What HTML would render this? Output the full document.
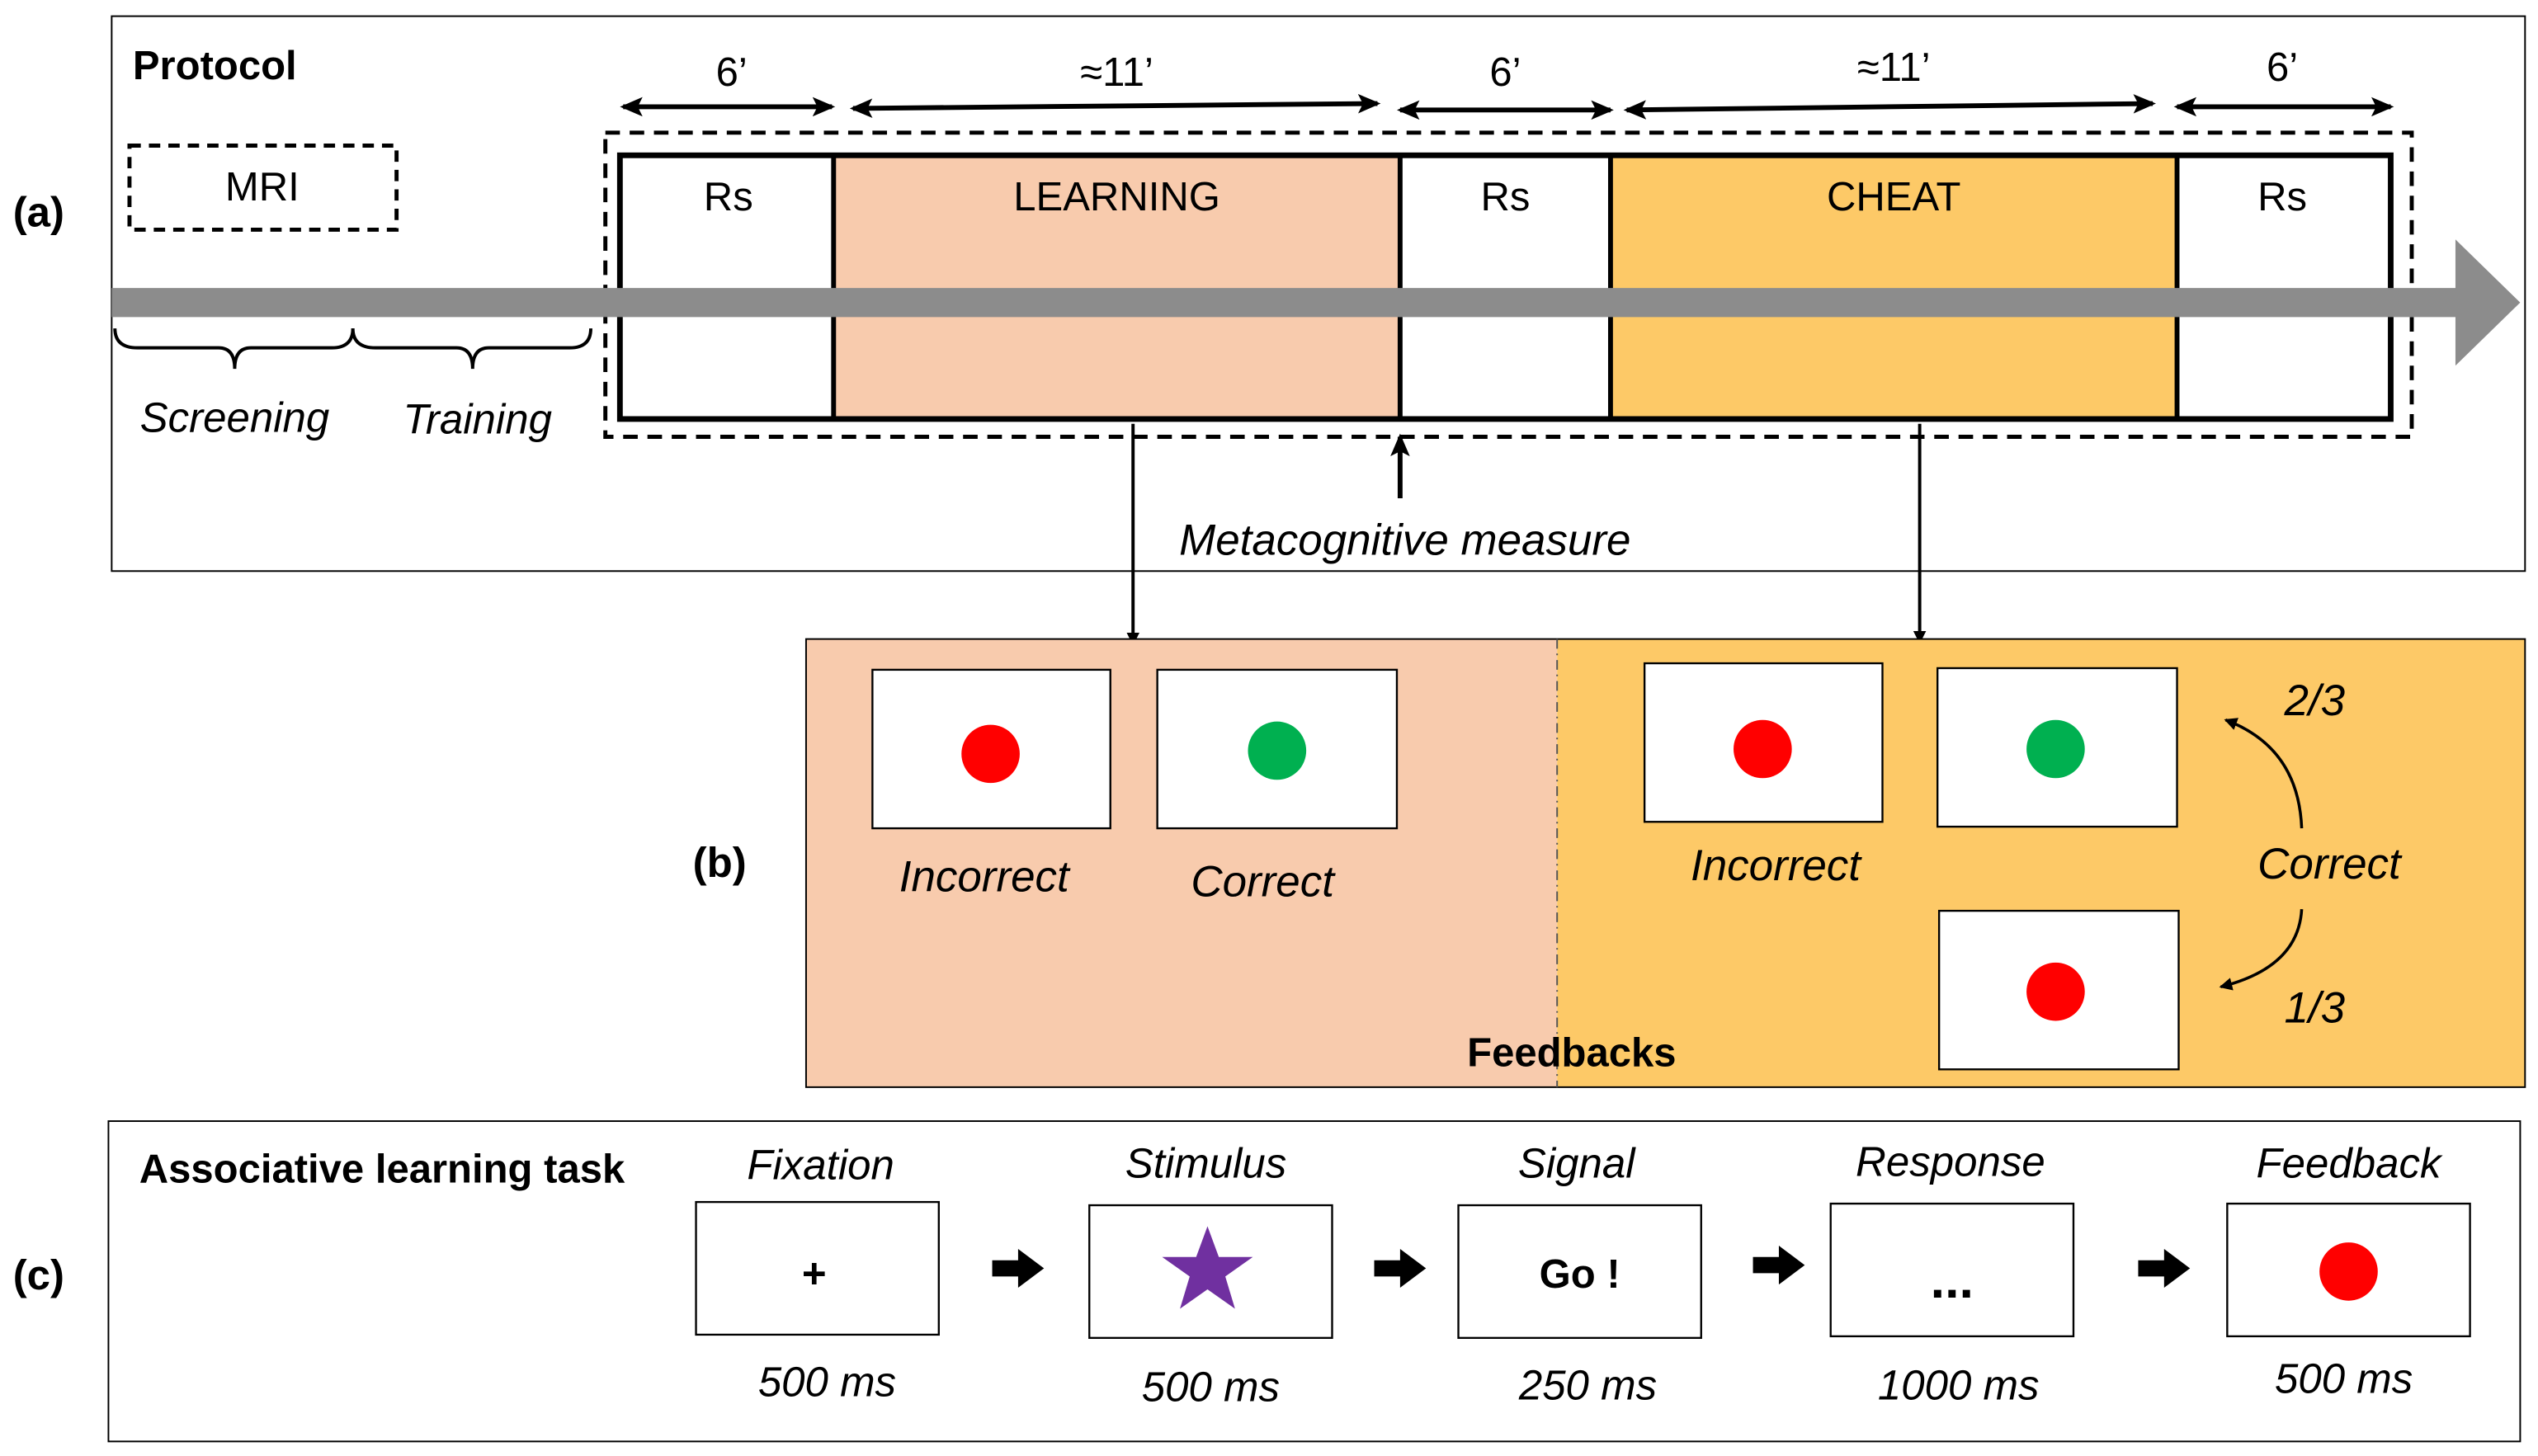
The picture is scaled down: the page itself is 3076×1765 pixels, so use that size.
<!DOCTYPE html>
<html><head><meta charset="utf-8"><style>
html,body{margin:0;padding:0;background:#fff;}
svg{display:block;}
text{font-family:"Liberation Sans",sans-serif;fill:#000;}
.it{font-style:italic;}
.b{font-weight:bold;}
</style></head><body>
<svg width="3076" height="1765" viewBox="0 0 1568 900" preserveAspectRatio="none">
<defs>
<marker id="ah" markerWidth="8" markerHeight="8" refX="7" refY="4" orient="auto-start-reverse" markerUnits="userSpaceOnUse"><path d="M0,0 L8,4 L0,8 z" fill="#000"/></marker>
<marker id="ah2" markerWidth="14" markerHeight="12" refX="12" refY="6" orient="auto-start-reverse" markerUnits="userSpaceOnUse"><path d="M0,0 L14,6 L0,12 L3,6 z" fill="#000"/></marker>
</defs>
<rect x="69" y="10" width="1491" height="343" fill="#fff" stroke="#000" stroke-width="1"/>
<text x="82" y="49" font-size="25" class="b">Protocol</text>
<text x="8" y="140" font-size="26" class="b">(a)</text>
<rect x="80" y="90" width="165" height="52" fill="none" stroke="#000" stroke-width="2.5" stroke-dasharray="7,5"/>
<text x="162" y="124" font-size="25" text-anchor="middle">MRI</text>
<rect x="515" y="96" width="350" height="163" fill="#f8cbad"/>
<rect x="995" y="96" width="350" height="163" fill="#fdc967"/>
<rect x="383" y="96" width="1094" height="163" fill="none" stroke="#000" stroke-width="3.5"/>
<g stroke="#000" stroke-width="3"><line x1="515" y1="96" x2="515" y2="259"/><line x1="865" y1="96" x2="865" y2="259"/><line x1="995" y1="96" x2="995" y2="259"/><line x1="1345" y1="96" x2="1345" y2="259"/></g>
<rect x="374" y="82" width="1116" height="188" fill="none" stroke="#000" stroke-width="2.5" stroke-dasharray="9,6"/>
<text x="450" y="130" font-size="25" text-anchor="middle">Rs</text>
<text x="690" y="130" font-size="25" text-anchor="middle">LEARNING</text>
<text x="930" y="130" font-size="25" text-anchor="middle">Rs</text>
<text x="1170" y="130" font-size="25" text-anchor="middle">CHEAT</text>
<text x="1410" y="130" font-size="25" text-anchor="middle">Rs</text>
<path d="M69,178 L1517,178 L1517,148 L1557,187 L1517,226 L1517,196 L69,196 z" fill="#8c8c8c"/>
<g stroke="#000" stroke-width="3" marker-start="url(#ah2)" marker-end="url(#ah2)">
<line x1="385" y1="66" x2="514" y2="66"/><line x1="527" y1="67" x2="851" y2="64"/><line x1="865" y1="68" x2="995" y2="68"/><line x1="1005" y1="68" x2="1330" y2="64"/><line x1="1345" y1="66" x2="1477" y2="66"/></g>
<text x="452" y="53" font-size="25" text-anchor="middle">6’</text>
<text x="690" y="53" font-size="25" text-anchor="middle">≈11’</text>
<text x="930" y="53" font-size="25" text-anchor="middle">6’</text>
<text x="1170" y="50" font-size="25" text-anchor="middle">≈11’</text>
<text x="1410" y="50" font-size="25" text-anchor="middle">6’</text>
<path d="M71,203 Q71,215 85,215 L135,215 Q145,215 145,228 Q145,215 155,215 L205,215 Q218,215 218,203" fill="none" stroke="#000" stroke-width="2"/>
<path d="M218,203 Q218,215 232,215 L282,215 Q292,215 292,228 Q292,215 302,215 L352,215 Q365,215 365,203" fill="none" stroke="#000" stroke-width="2"/>
<text x="145" y="267" font-size="26" class="it" text-anchor="middle">Screening</text>
<text x="295" y="268" font-size="26" class="it" text-anchor="middle">Training</text>
<line x1="865" y1="308" x2="865" y2="270" stroke="#000" stroke-width="3" marker-end="url(#ah2)"/>
<text x="868" y="343" font-size="27" class="it" text-anchor="middle">Metacognitive measure</text>
<line x1="700" y1="262" x2="700" y2="398" stroke="#000" stroke-width="2" marker-end="url(#ah)"/>
<line x1="1186" y1="262" x2="1186" y2="397" stroke="#000" stroke-width="2" marker-end="url(#ah)"/>
<rect x="498" y="395" width="464" height="277" fill="#f8cbad"/>
<rect x="962" y="395" width="598" height="277" fill="#fdc967"/>
<rect x="498" y="395" width="1062" height="277" fill="none" stroke="#000" stroke-width="1"/>
<line x1="962" y1="395" x2="962" y2="672" stroke="#555" stroke-width="1" stroke-dasharray="6,3,1,3"/>
<text x="428" y="542" font-size="26" class="b">(b)</text>
<g fill="#fff" stroke="#000" stroke-width="1.2">
<rect x="539" y="414" width="147" height="98"/><rect x="715" y="414" width="148" height="98"/>
<rect x="1016" y="410" width="147" height="98"/><rect x="1197" y="413" width="148" height="98"/><rect x="1198" y="563" width="148" height="98"/></g>
<circle cx="612" cy="466" r="18" fill="#f00"/>
<circle cx="789" cy="464" r="18" fill="#00b050"/>
<circle cx="1089" cy="463" r="18" fill="#f00"/>
<circle cx="1270" cy="463" r="18" fill="#00b050"/>
<circle cx="1270" cy="613" r="18" fill="#f00"/>
<g font-size="27" text-anchor="middle">
<text x="608" y="551" class="it">Incorrect</text>
<text x="780" y="554" class="it">Correct</text>
<text x="1097" y="544" class="it">Incorrect</text>
<text x="1439" y="543" class="it">Correct</text>
<text x="1430" y="442" class="it">2/3</text>
<text x="1430" y="632" class="it">1/3</text></g>
<path d="M1422,512 Q1420,462 1375,445" fill="none" stroke="#000" stroke-width="1.8" marker-end="url(#ah)"/>
<path d="M1422,562 Q1420,598 1372,610" fill="none" stroke="#000" stroke-width="1.8" marker-end="url(#ah)"/>
<text x="971" y="659" font-size="25" class="b" text-anchor="middle">Feedbacks</text>
<rect x="67" y="693" width="1490" height="198" fill="#fff" stroke="#000" stroke-width="1"/>
<text x="8" y="797" font-size="26" class="b">(c)</text>
<text x="86" y="731" font-size="25" class="b">Associative learning task</text>
<g fill="#fff" stroke="#000" stroke-width="1.2">
<rect x="430" y="743" width="150" height="82"/><rect x="673" y="745" width="150" height="82"/><rect x="901" y="745" width="150" height="82"/><rect x="1131" y="744" width="150" height="82"/><rect x="1376" y="744" width="150" height="82"/></g>
<g font-size="26" text-anchor="middle">
<text x="507" y="729" class="it">Fixation</text><text x="745" y="728" class="it">Stimulus</text><text x="974" y="728" class="it">Signal</text><text x="1205" y="727" class="it">Response</text><text x="1451" y="728" class="it">Feedback</text>
<text x="511" y="863" class="it">500 ms</text><text x="748" y="866" class="it">500 ms</text><text x="981" y="865" class="it">250 ms</text><text x="1210" y="865" class="it">1000 ms</text><text x="1448" y="861" class="it">500 ms</text></g>
<text x="503" y="796" font-size="26" class="b" text-anchor="middle">+</text>
<polygon points="746,758 753,777 774,777 757,789 763,809 746,797 729,809 735,789 718,777 739,777" fill="#7030a0"/>
<text x="976" y="796" font-size="25" class="b" text-anchor="middle">Go !</text>
<text x="1206" y="802" font-size="32" class="b" text-anchor="middle">...</text>
<circle cx="1451" cy="786" r="18" fill="#f00"/>
<g fill="#000">
<path d="M613,779 L629,779 L629,772 L645,784 L629,796 L629,789 L613,789 z"/>
<path d="M849,779 L865,779 L865,772 L881,784 L865,796 L865,789 L849,789 z"/>
<path d="M1083,777 L1099,777 L1099,770 L1115,782 L1099,794 L1099,787 L1083,787 z"/>
<path d="M1321,779 L1337,779 L1337,772 L1353,784 L1337,796 L1337,789 L1321,789 z"/></g>
</svg>
</body></html>
